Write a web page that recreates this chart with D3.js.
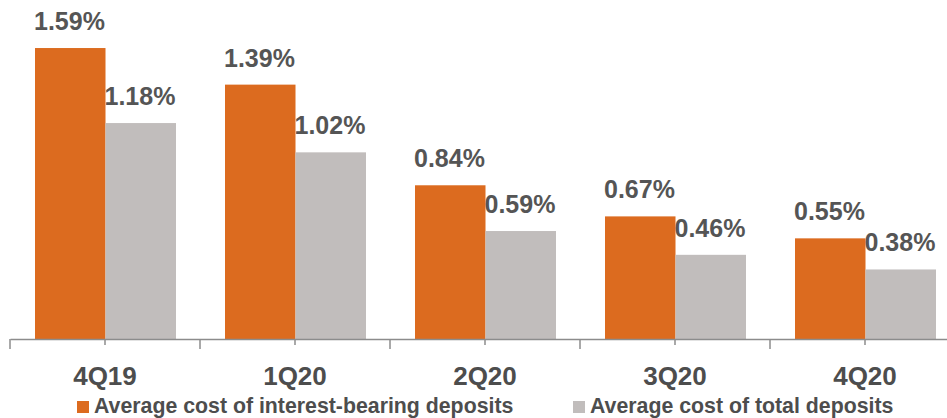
<!DOCTYPE html>
<html>
<head>
<meta charset="utf-8">
<script src="https://cdn.jsdelivr.net/npm/d3@7"></script>
<style>
  body { margin: 0; background: #fff; }
  svg { display: block; font-family: "Liberation Sans", Arial, sans-serif; }
</style>
</head>
<body>
<div id="chart"></div>
<script>
// Data
const quarters = ["4Q19", "1Q20", "2Q20", "3Q20", "4Q20"];
const seriesNames = ["Average cost of interest-bearing deposits", "Average cost of total deposits"];
const interestBearing = [1.59, 1.39, 0.84, 0.67, 0.55];
const totalDeposits = [1.18, 1.02, 0.59, 0.46, 0.38];
const colors = ["#dc6b1f", "#c1bdbc"];

const width = 947;
const height = 418;
const baseY = 339;

const svg = d3.select("#chart")
  .append("svg")
  .attr("width", width)
  .attr("height", height);

// Scales
let x0 = d3.scaleBand()
  .domain(quarters)
  .range([10, 960]);

let x1 = d3.scaleBand()
  .domain([0, 1])
  .range([25, 166]);

let y = d3.scaleLinear()
  .domain([0, 1.8])
  .range([baseY, baseY - 1.8 * 183]);

const rows = quarters.map((q, i) => ({ q: q, vals: [interestBearing[i], totalDeposits[i]] }));

// Bars
let groups = svg.selectAll("g.group")
  .data(rows)
  .enter().append("g")
  .attr("class", "group")
  .attr("transform", d => "translate(" + x0(d.q) + ",0)");

groups.selectAll("rect")
  .data(d => d.vals.map((v, k) => ({ k: k, v: v })))
  .enter().append("rect")
  .attr("x", d => x1(d.k))
  .attr("y", d => y(d.v))
  .attr("width", x1.bandwidth())
  .attr("height", d => baseY - y(d.v))
  .attr("fill", d => colors[d.k]);

// Value labels
groups.selectAll("text")
  .data(d => d.vals.map((v, k) => ({ k: k, v: v })))
  .enter().append("text")
  .attr("x", d => x1(d.k) - 1)
  .attr("y", d => y(d.v) - 18)
  .attr("font-size", "25px")
  .attr("font-weight", "bold")
  .attr("fill", "#555")
  .text(d => d.v.toFixed(2) + "%");

// Axis
let xAxis = d3.axisBottom(x0)
  .tickSizeInner(6)
  .tickSizeOuter(0)
  .tickFormat("");

let axisG = svg.append("g")
  .attr("transform", "translate(0," + baseY + ")")
  .call(xAxis);
axisG.select(".domain").attr("stroke", "#8c8c8c").attr("stroke-width", 1.5);
axisG.selectAll(".tick line").attr("stroke", "#8c8c8c").attr("stroke-width", 1.5);

// Long ticks at category boundaries
axisG.selectAll("line.sep")
  .data(quarters)
  .enter().append("line")
  .attr("class", "sep")
  .attr("x1", d => x0(d))
  .attr("x2", d => x0(d))
  .attr("y1", 0)
  .attr("y2", 10)
  .attr("stroke", "#8c8c8c")
  .attr("stroke-width", 1.5);

// Category labels
svg.selectAll("text.cat")
  .data(quarters)
  .enter().append("text")
  .attr("class", "cat")
  .attr("x", d => x0(d) + x0.bandwidth() / 2)
  .attr("y", 385)
  .attr("text-anchor", "middle")
  .attr("font-size", "26px")
  .attr("font-weight", "bold")
  .attr("fill", "#4d4d4d")
  .text(d => d);

// Legend
const legendX = [77, 573];
let legend = svg.selectAll("g.legend")
  .data(seriesNames)
  .enter().append("g")
  .attr("class", "legend")
  .attr("transform", (d, i) => "translate(" + legendX[i] + ",401)");

legend.append("rect")
  .attr("width", 12)
  .attr("height", 12)
  .attr("fill", (d, i) => colors[i]);

legend.append("text")
  .attr("x", 17)
  .attr("y", 12)
  .attr("font-size", "21.3px")
  .attr("font-weight", "bold")
  .attr("fill", "#4d4d4d")
  .text(d => d);
</script>
</body>
</html>
